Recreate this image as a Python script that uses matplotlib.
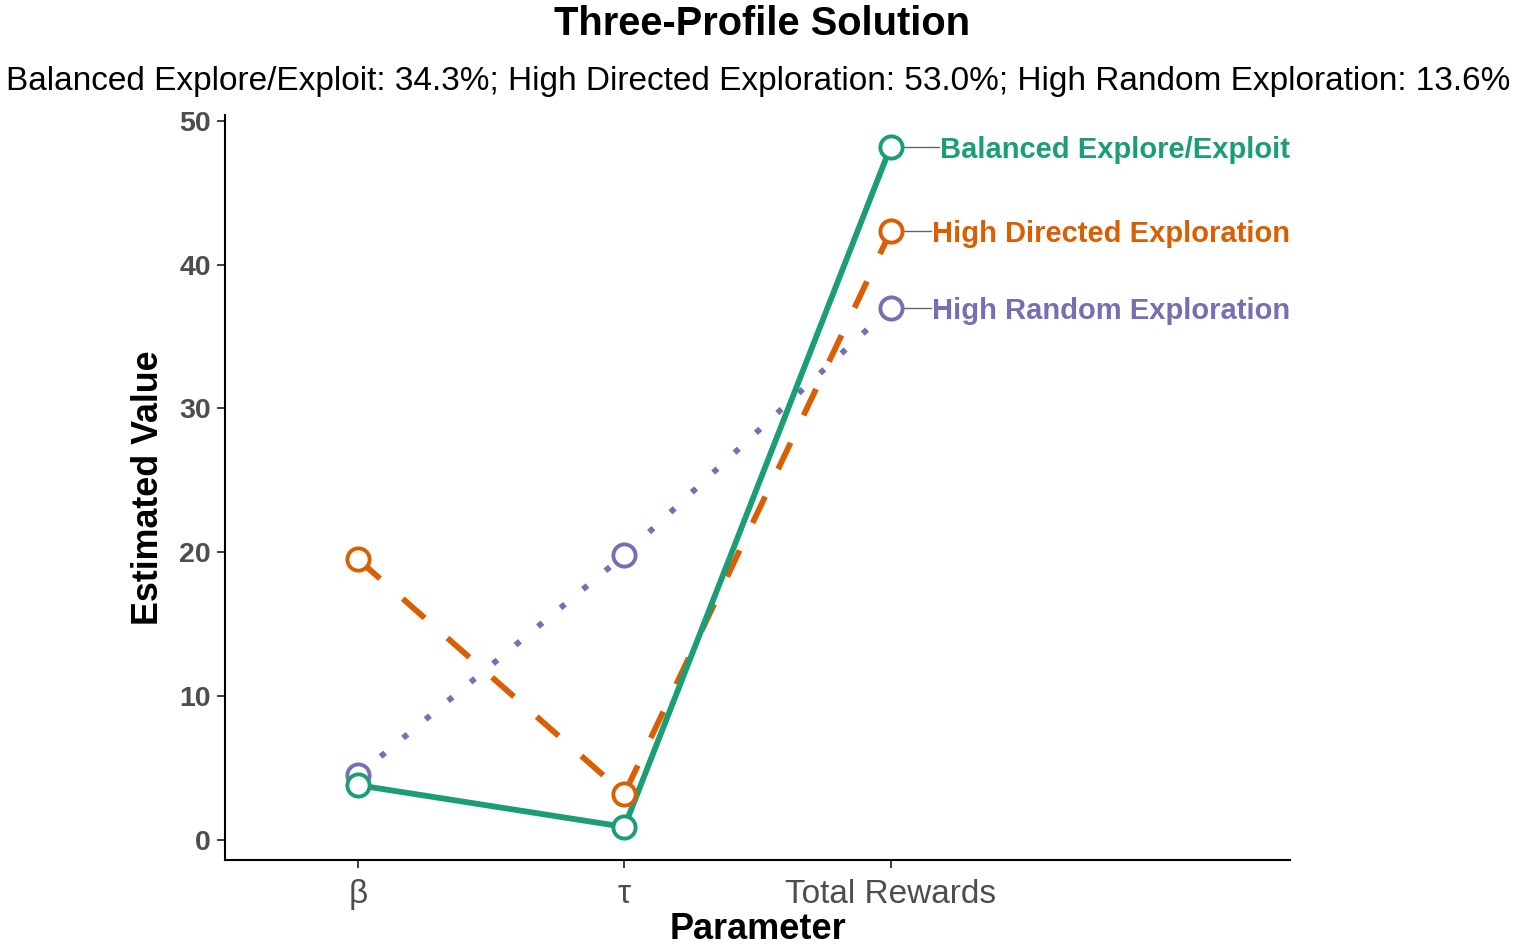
import matplotlib
matplotlib.use("Agg")
import matplotlib.pyplot as plt

plt.rcParams['font.family'] = ['Liberation Sans', 'DejaVu Sans']

parameters = ["β", "τ", "Total Rewards"]
profiles = ["Balanced Explore/Exploit", "High Directed Exploration", "High Random Exploration"]
balanced = [3.8, 0.9, 48.2]
directed = [19.5, 3.2, 42.3]
random_expl = [4.5, 19.8, 37.0]
colors = ["#1B9E77", "#D95F02", "#7570B3"]
title = "Three-Profile Solution"
subtitle = "Balanced Explore/Exploit: 34.3%; High Directed Exploration: 53.0%; High Random Exploration: 13.6%"

fig = plt.figure(figsize=(15.17, 9.47), dpi=100)
ax = fig.add_axes([0.1483, 0.0919, 0.8504 - 0.1483, 0.8786 - 0.0919])

x = list(range(1, len(parameters) + 1))
series = [directed, random_expl, balanced]
cols = [colors[1], colors[2], colors[0]]
styles = [dict(linestyle=(0, (5.0, 5.2)), dash_capstyle='butt'),
          dict(linestyle=(0, (1, 4)), dash_capstyle='butt'),
          dict(linestyle='-')]
for vals, c, st in zip(series, cols, styles):
    ax.plot(x, vals, color=c, lw=4.2, zorder=2, **st)
for vals, c in zip(series, cols):
    ax.plot(x, vals, linestyle='none', marker='o', markersize=16,
            markerfacecolor='white', markeredgecolor=c, markeredgewidth=2.8, zorder=3)

# labels at the last point
for name, vals, c, xo in zip(profiles, [balanced, directed, random_expl], colors, [3.185, 3.157, 3.157]):
    yv = vals[-1]
    ax.plot([3.05, xo - 0.005], [yv, yv], color='#666666', lw=1.0, zorder=1)
    ax.text(xo, yv, name, color=c, fontsize=21, fontweight='bold', va='center_baseline', ha='left')

ax.set_xlim(0.5, 4.5)
ax.set_ylim(-1.4, 50.4)
ax.set_xticks(x)
ax.set_xticklabels(parameters, fontsize=24, color='#4D4D4D')
ax.set_yticks([0, 10, 20, 30, 40, 50])
ax.set_yticklabels(["0", "10", "20", "30", "40", "50"], fontsize=20.5, fontweight='bold', color='#4D4D4D')
ax.tick_params(axis='both', length=6, width=1.3, color='#333333')
ax.tick_params(axis='x', pad=8)
ax.tick_params(axis='y', pad=4)
for s in ['top', 'right']:
    ax.spines[s].set_visible(False)
for s in ['left', 'bottom']:
    ax.spines[s].set_linewidth(1.5)
    ax.spines[s].set_color('black')

ax.set_xlabel("Parameter", fontsize=26, fontweight='bold', labelpad=1)
ax.set_ylabel("Estimated Value", fontsize=25.8, fontweight='bold', labelpad=10)

fig.text(0.5025, 0.975, title, ha='center', va='center', fontsize=28.7, fontweight='bold')
fig.text(0.4995, 0.914, subtitle, ha='center', va='center', fontsize=24)

fig.savefig("out.png", dpi=100)
